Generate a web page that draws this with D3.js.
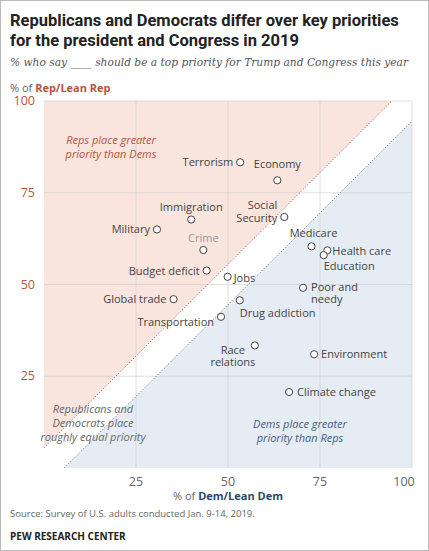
<!DOCTYPE html>
<html>
<head>
<script src="https://d3js.org/d3.v7.min.js"></script>
<meta charset="utf-8">
<style>body{margin:0;background:#fff;font-family:"Open Sans",Roboto,sans-serif;}</style>
</head>
<body>
<script>
// values: % Dem, % Rep
var topics = ["Terrorism","Economy","Immigration","Social Security","Military","Crime","Medicare","Health care","Education","Budget deficit","Jobs","Poor and needy","Global trade","Drug addiction","Transportation","Race relations","Environment","Climate change"];
var demVals = [53.3,63.4,40,65.3,30.7,43.3,72.7,77,76,44.2,49.9,70.4,35.2,53.2,48.1,57.3,73.4,66.6];
var repVals = [83.3,78.4,67.7,68.4,65,59.4,60.4,59.3,58,53.8,52.1,49.1,46,45.7,41.2,33.4,31,20.7];
var ticks = [25,50,75,100];

// label placement: [anchor, dx, dy per line]
var place = {
  "Terrorism":["end",-7,[4]], "Economy":["middle",0,[-12]], "Immigration":["middle",0,[-9]],
  "Social Security":["end",-7,[-8,5]], "Military":["end",-7,[4]], "Crime":["middle",0,[-8]],
  "Medicare":["middle",2,[-9]], "Health care":["start",5,[5]], "Education":["start",0,[15]],
  "Budget deficit":["end",-7,[4]], "Jobs":["start",6,[5]], "Poor and needy":["start",8,[3,15]],
  "Global trade":["end",-7,[4]], "Drug addiction":["start",0,[17]], "Transportation":["end",-7,[9]],
  "Race relations":["middle",-22,[9,21]], "Environment":["start",7,[4]], "Climate change":["start",8,[4]]
};
var lines = {"Social Security":["Social","Security"],"Poor and needy":["Poor and","needy"],"Race relations":["Race","relations"]};

var W = 429, H = 551;
var svg = d3.select("body").append("svg").attr("width", W).attr("height", H);
svg.append("rect").attr("x",0.5).attr("y",0.5).attr("width",W-1).attr("height",H-1).attr("fill","none").attr("stroke","#bbb");

var x = d3.scaleLinear().domain([0,100]).range([44,412]);
var y = d3.scaleLinear().domain([0,100]).range([468,101]);

svg.append("text").attr("x",10).attr("y",26).attr("font-size",16.5).attr("font-weight","bold").attr("font-family","Roboto,sans-serif").attr("fill","#222").text("Republicans and Democrats differ over key priorities");
svg.append("text").attr("x",10).attr("y",46).attr("font-size",16.5).attr("font-weight","bold").attr("font-family","Roboto,sans-serif").attr("fill","#222").text("for the president and Congress in 2019");
svg.append("text").attr("x",10).attr("y",66).attr("font-size",11).attr("font-style","italic").attr("fill","#555").attr("font-family","Georgia,'DejaVu Serif',serif")
  .attr("textLength",398).attr("lengthAdjust","spacingAndGlyphs")
  .text("% who say ____ should be a top priority for Trump and Congress this year");

// regions
var g = 5.5;
svg.append("path").attr("fill","#f9e4de")
  .attr("d", d3.line()([[x(0),y(g)],[x(0),y(100)],[x(100-g),y(100)]]));
svg.append("path").attr("fill","#e6ecf3")
  .attr("d", d3.line()([[x(g),y(0)],[x(100),y(0)],[x(100),y(100-g)]]));

// grid
svg.append("g").selectAll("line").data(ticks).enter().append("line")
  .attr("x1",d=>x(d)).attr("x2",d=>x(d)).attr("y1",y(0)).attr("y2",y(100)).attr("stroke","#ccc").attr("stroke-opacity",0.6);
svg.append("g").selectAll("line").data(ticks).enter().append("line")
  .attr("x1",x(0)).attr("x2",x(100)).attr("y1",d=>y(d)).attr("y2",d=>y(d)).attr("stroke","#ccc").attr("stroke-opacity",0.6);

// dotted edges
svg.append("line").attr("x1",x(0)).attr("y1",y(g)).attr("x2",x(100-g)).attr("y2",y(100)).attr("stroke","#666").attr("stroke-dasharray","1,2");
svg.append("line").attr("x1",x(g)).attr("y1",y(0)).attr("x2",x(100)).attr("y2",y(100-g)).attr("stroke","#666").attr("stroke-dasharray","1,2");

// tick labels
svg.append("g").selectAll("text").data(ticks).enter().append("text")
  .attr("x",35).attr("y",d=>y(d)+4).attr("text-anchor","end").attr("font-size",12.5).attr("fill","#b5553f").text(d=>d);
svg.append("g").selectAll("text").data(ticks).enter().append("text")
  .attr("x",d=>d==100?x(d)-8:x(d)).attr("y",486).attr("text-anchor","middle").attr("font-size",12.5).attr("fill","#666").text(d=>d);

var yt = svg.append("text").attr("x",10).attr("y",92).attr("font-size",11).attr("fill","#666");
yt.append("tspan").text("% of ");
yt.append("tspan").attr("font-weight","bold").attr("fill","#b5553f").text("Rep/Lean Rep");
var xt = svg.append("text").attr("x",x(50)).attr("y",500).attr("text-anchor","middle").attr("font-size",11).attr("fill","#666");
xt.append("tspan").text("% of ");
xt.append("tspan").attr("font-weight","bold").attr("fill","#2e4a6b").text("Dem/Lean Dem");

// region notes
function note(tx, ty, arr, col){
  var t = svg.append("text").attr("text-anchor","middle").attr("font-size",11).attr("font-style","italic").attr("fill",col);
  arr.forEach((s,i)=>t.append("tspan").attr("x",tx).attr("y",ty+i*14).text(s));
}
note(111,144,["Reps place greater","priority than Dems"],"#b5553f");
note(93,413,["Republicans and","Democrats place","roughly equal priority"],"#666");
note(300,428,["Dems place greater","priority than Reps"],"#3f5f80");

// points
var pts = topics.map((t,i)=>({t:t,d:demVals[i],r:repVals[i]}));
svg.append("g").selectAll("circle").data(pts).enter().append("circle")
  .attr("cx",d=>x(d.d)).attr("cy",d=>y(d.r)).attr("r",3.6).attr("fill","#fff").attr("stroke","#444").attr("stroke-width",1);
pts.forEach(function(p){
  var pl = place[p.t], ls = lines[p.t] || [p.t];
  var t = svg.append("text").attr("text-anchor",pl[0]).attr("font-size",11).attr("fill",p.t=="Crime"?"#999":"#444");
  ls.forEach((s,i)=>t.append("tspan").attr("x",x(p.d)+pl[1]).attr("y",y(p.r)+pl[2][i]).text(s));
});

svg.append("text").attr("x",10).attr("y",517).attr("font-size",9.5).attr("fill","#666").text("Source: Survey of U.S. adults conducted Jan. 9-14, 2019.");
svg.append("text").attr("x",10).attr("y",540).attr("font-size",10).attr("font-weight","bold").attr("fill","#222").text("PEW RESEARCH CENTER");
</script>
</body>
</html>
